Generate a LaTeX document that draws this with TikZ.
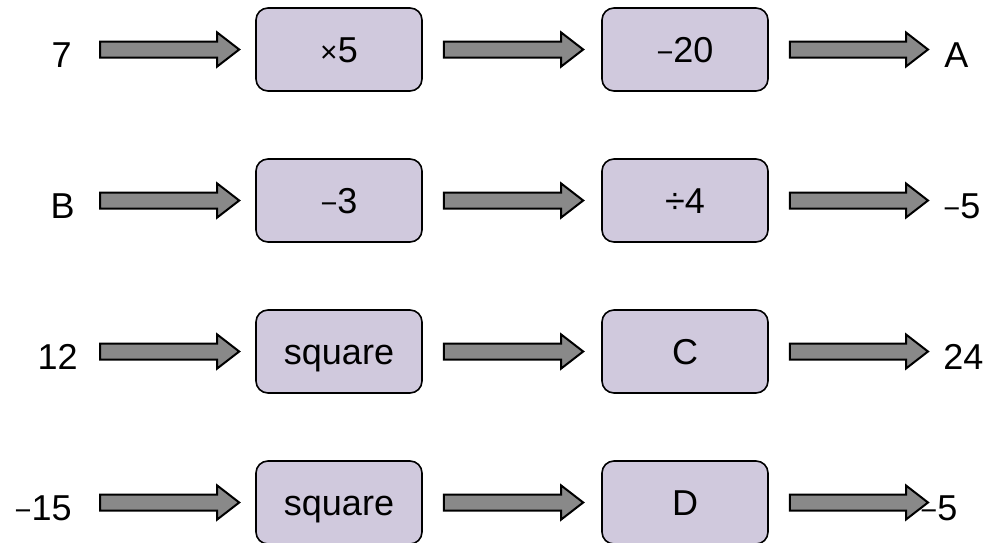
\documentclass[tikz,border=0pt]{standalone}
\usepackage{fontspec}
\setmainfont{Liberation Sans}
\usetikzlibrary{calc}
\definecolor{opfill}{RGB}{208,201,221}
\definecolor{arrowgrey}{RGB}{137,137,137}
\newcommand\smin{{\fontsize{14.5pt}{14.5pt}\selectfont −}}
\newcommand\stimes{{\fontsize{15pt}{15pt}\selectfont ×}}
\tikzset{
  opbox/.style={draw, line width=0.8pt, fill=opfill, rounded corners=6pt,
    minimum width=83pt, minimum height=41.5pt, inner sep=0pt,
    text height=12.5pt, text depth=0pt,
    font=\fontsize{18pt}{21pt}\selectfont},
  val/.style={inner sep=0pt, font=\fontsize{18pt}{21pt}\selectfont},
  blockarrow/.style={draw=black, fill=arrowgrey, line width=1pt,
    to path={let \p1=(\tikztostart), \p2=(\tikztotarget) in
      (\x1,\y2+4pt) -- (\x2-11pt,\y2+4pt) -- (\x2-11pt,\y2+8.5pt) -- (\x2,\y2)
      -- (\x2-11pt,\y2-8.5pt) -- (\x2-11pt,\y2-4pt) -- (\x1,\y2-4pt) -- cycle}}
}
\begin{document}
\begin{tikzpicture}[x=0.5pt,y=-0.5pt]
\useasboundingbox (0,0) rectangle (987,542);

\node[opbox] (op11) at (339,49.5) {\stimes5};
\node[opbox] (op12) at (685,49.5) {\smin20};
\node[opbox] (op21) at (339,200.5) {\smin3};
\node[opbox] (op22) at (685,200.5) {÷4};
\node[opbox] (op31) at (339,351.5) {square};
\node[opbox] (op32) at (685,351.5) {C};
\node[opbox] (op41) at (339,502.5) {square};
\node[opbox] (op42) at (685,502.5) {D};

\node[val, anchor=base east] (in1) at (72,67) {7};
\node[val, anchor=base east] (in2) at (75,218) {B};
\node[val, anchor=base east] (in3) at (78,369) {12};
\node[val, anchor=base east] (in4) at (72,520) {\smin15};
\node[val, anchor=base west] (out1) at (944,67) {A};
\node[val, anchor=base west] (out2) at (943,218) {\smin5};
\node[val, anchor=base west] (out3) at (943,369) {24};
\node[val, anchor=base west] (out4) at (920,520) {\smin5};

\coordinate (s11) at (100,49.5);
\coordinate (e11) at ($(op11.west)+(-8pt,0)$);
\coordinate (s12) at ($(op11.east)+(10.5pt,0)$);
\coordinate (e12) at ($(op12.west)+(-9pt,0)$);
\coordinate (s13) at ($(op12.east)+(10.5pt,0)$);
\coordinate (e13) at (928,49.5);
\coordinate (s21) at (100,200.5);
\coordinate (e21) at ($(op21.west)+(-8pt,0)$);
\coordinate (s22) at ($(op21.east)+(10.5pt,0)$);
\coordinate (e22) at ($(op22.west)+(-9pt,0)$);
\coordinate (s23) at ($(op22.east)+(10.5pt,0)$);
\coordinate (e23) at (928,200.5);
\coordinate (s31) at (100,351.5);
\coordinate (e31) at ($(op31.west)+(-8pt,0)$);
\coordinate (s32) at ($(op31.east)+(10.5pt,0)$);
\coordinate (e32) at ($(op32.west)+(-9pt,0)$);
\coordinate (s33) at ($(op32.east)+(10.5pt,0)$);
\coordinate (e33) at (928,351.5);
\coordinate (s41) at (100,502.5);
\coordinate (e41) at ($(op41.west)+(-8pt,0)$);
\coordinate (s42) at ($(op41.east)+(10.5pt,0)$);
\coordinate (e42) at ($(op42.west)+(-9pt,0)$);
\coordinate (s43) at ($(op42.east)+(10.5pt,0)$);
\coordinate (e43) at (928,502.5);

\draw[blockarrow] (s11) to (e11);
\draw[blockarrow] (s12) to (e12);
\draw[blockarrow] (s13) to (e13);
\draw[blockarrow] (s21) to (e21);
\draw[blockarrow] (s22) to (e22);
\draw[blockarrow] (s23) to (e23);
\draw[blockarrow] (s31) to (e31);
\draw[blockarrow] (s32) to (e32);
\draw[blockarrow] (s33) to (e33);
\draw[blockarrow] (s41) to (e41);
\draw[blockarrow] (s42) to (e42);
\draw[blockarrow] (s43) to (e43);
\end{tikzpicture}
\end{document}
